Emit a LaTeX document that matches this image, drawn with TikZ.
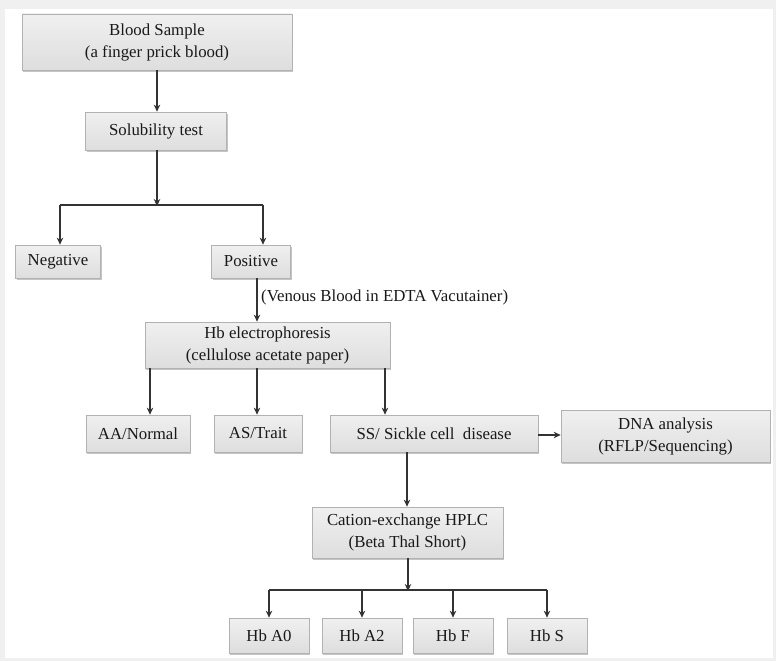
\documentclass[tikz,border=0pt]{standalone}
\usepackage{fontspec}
\setmainfont{Liberation Serif}
\usetikzlibrary{arrows.meta,shadows}
\begin{document}
\begin{tikzpicture}[x=1pt,y=-1pt,
  box/.style={draw=gray!60, line width=0.7pt, top color=gray!12, bottom color=gray!26,
    align=center, inner sep=0pt, text=black!90,
    font=\fontsize{16.8}{22}\selectfont,
    drop shadow={opacity=0.45, shadow xshift=1.2pt, shadow yshift=-2pt}},
  conn/.style={draw=black!80, line width=1.1pt},
  arr/.style={conn, -{Stealth[length=7pt,width=6.5pt]}},
  lbl/.style={font=\fontsize{16.8}{20}\selectfont, text=black!90, inner sep=0pt}
]
\useasboundingbox (0,0) rectangle (776,661);
\fill[gray!12] (0,0) rectangle (776,661);
\fill[white] (5,9) rectangle (773,658);

\node[box, minimum width=270, minimum height=56] (blood) at (157,42) {Blood Sample\\(a finger prick blood)};
\node[box, minimum width=141, minimum height=38] (sol) at (156,131) {Solubility test};
\node[box, minimum width=85, minimum height=33] (neg) at (58,261.5) {Negative};
\node[box, minimum width=79, minimum height=33] (pos) at (251,261.5) {Positive};
\node[box, minimum width=245, minimum height=46] (hbe) at (267.5,345) {Hb electrophoresis\\(cellulose acetate paper)};
\node[box, minimum width=104, minimum height=37] (aa) at (138,433.5) {AA/Normal};
\node[box, minimum width=88, minimum height=37] (as) at (258,433.5) {AS/Trait};
\node[box, minimum width=208, minimum height=37] (ss) at (434,433.5) {SS/ Sickle cell\ \ disease};
\node[box, minimum width=209, minimum height=52] (dna) at (665.5,436) {DNA analysis\\(RFLP/Sequencing)};
\node[box, minimum width=191, minimum height=51] (cat) at (407.5,532.5) {Cation-exchange HPLC\\(Beta Thal Short)};
\node[box, minimum width=80, minimum height=35] (a0) at (269,635.5) {Hb A0};
\node[box, minimum width=80, minimum height=35] (a2) at (362,635.5) {Hb A2};
\node[box, minimum width=80, minimum height=35] (hf) at (453,635.5) {Hb F};
\node[box, minimum width=80, minimum height=35] (hs) at (547,635.5) {Hb S};
\node[lbl, anchor=west] (ven) at (261,297) {(Venous Blood in EDTA Vacutainer)};

\coordinate (j1) at (157,205);
\coordinate (j2) at (408,590);

\draw[arr] (blood.south -| 157,0) -- (sol.north -| 157,0);
\draw[arr] (sol.south -| j1) -- ([yshift=-1]j1);
\draw[conn] ([xshift=-97]j1) -- ([xshift=106]j1);
\draw[arr] ([xshift=-97]j1) -- (neg.north -| 60,0);
\draw[arr] ([xshift=106]j1) -- (pos.north -| 263,0);
\draw[arr] (pos.south -| 257,0) -- (hbe.north -| 257,0);
\draw[arr] (hbe.south -| 150,0) -- (aa.north -| 150,0);
\draw[arr] (hbe.south -| 257,0) -- (as.north -| 257,0);
\draw[arr] (hbe.south -| 385,0) -- (ss.north -| 385,0);
\draw[arr] (ss.east |- 0,435) -- (dna.west |- 0,435);
\draw[arr] (ss.south -| 407,0) -- (cat.north -| 407,0);
\draw[arr] (cat.south -| j2) -- ([yshift=-1]j2);
\draw[conn] (a0.north |- j2) -- (hs.north |- j2);
\draw[arr] (a0.north |- j2) -- (a0.north);
\draw[arr] (a2.north |- j2) -- (a2.north);
\draw[arr] (hf.north |- j2) -- (hf.north);
\draw[arr] (hs.north |- j2) -- (hs.north);
\end{tikzpicture}
\end{document}
